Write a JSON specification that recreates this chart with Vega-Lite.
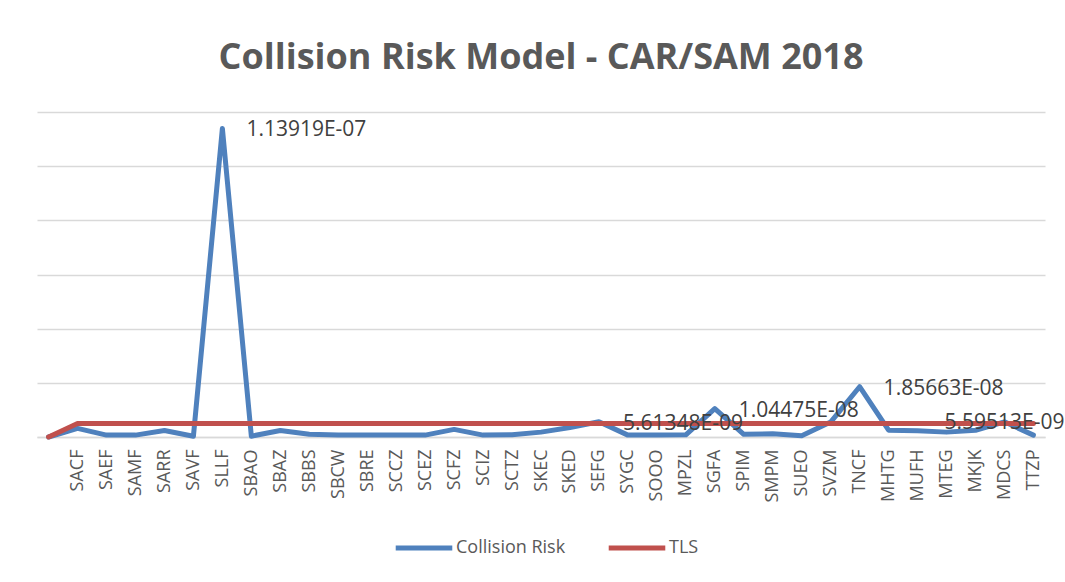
{
  "$schema": "https://vega.github.io/schema/vega-lite/v6.json",
  "autosize": {"type": "none"},
  "width": 1008,
  "height": 325,
  "padding": {"left": 37, "top": 112, "right": 20, "bottom": 145},
  "background": "white",
  "title": {
    "text": "Collision Risk Model - CAR/SAM 2018",
    "font": "Open Sans",
    "fontSize": 36,
    "fontWeight": "bold",
    "color": "#595959",
    "anchor": "middle",
    "frame": "group",
    "baseline": "alphabetic",
    "offset": 7
  },
  "config": {
    "view": {"stroke": null},
    "font": "Open Sans"
  },
  "data": {
    "values": [
      {"cat": " ", "Collision Risk": 0, "TLS": 0},
      {"cat": "SACF", "Collision Risk": 3.2e-9, "TLS": 5e-9},
      {"cat": "SAEF", "Collision Risk": 0.7e-9, "TLS": 5e-9},
      {"cat": "SAMF", "Collision Risk": 0.7e-9, "TLS": 5e-9},
      {"cat": "SARR", "Collision Risk": 2.4e-9, "TLS": 5e-9},
      {"cat": "SAVF", "Collision Risk": 0.3e-9, "TLS": 5e-9},
      {"cat": "SLLF", "Collision Risk": 1.13919e-7, "TLS": 5e-9, "label": "1.13919E-07"},
      {"cat": "SBAO", "Collision Risk": 0.3e-9, "TLS": 5e-9},
      {"cat": "SBAZ", "Collision Risk": 2.4e-9, "TLS": 5e-9},
      {"cat": "SBBS", "Collision Risk": 1.0e-9, "TLS": 5e-9},
      {"cat": "SBCW", "Collision Risk": 0.7e-9, "TLS": 5e-9},
      {"cat": "SBRE", "Collision Risk": 0.7e-9, "TLS": 5e-9},
      {"cat": "SCCZ", "Collision Risk": 0.7e-9, "TLS": 5e-9},
      {"cat": "SCEZ", "Collision Risk": 0.7e-9, "TLS": 5e-9},
      {"cat": "SCFZ", "Collision Risk": 2.8e-9, "TLS": 5e-9},
      {"cat": "SCIZ", "Collision Risk": 0.7e-9, "TLS": 5e-9},
      {"cat": "SCTZ", "Collision Risk": 0.8e-9, "TLS": 5e-9},
      {"cat": "SKEC", "Collision Risk": 1.8e-9, "TLS": 5e-9},
      {"cat": "SKED", "Collision Risk": 3.5e-9, "TLS": 5e-9},
      {"cat": "SEFG", "Collision Risk": 5.61348e-9, "TLS": 5e-9, "label": "5.61348E-09"},
      {"cat": "SYGC", "Collision Risk": 0.7e-9, "TLS": 5e-9},
      {"cat": "SOOO", "Collision Risk": 0.7e-9, "TLS": 5e-9},
      {"cat": "MPZL", "Collision Risk": 0.8e-9, "TLS": 5e-9},
      {"cat": "SGFA", "Collision Risk": 1.04475e-8, "TLS": 5e-9, "label": "1.04475E-08"},
      {"cat": "SPIM", "Collision Risk": 1.0e-9, "TLS": 5e-9},
      {"cat": "SMPM", "Collision Risk": 1.2e-9, "TLS": 5e-9},
      {"cat": "SUEO", "Collision Risk": 0.5e-9, "TLS": 5e-9},
      {"cat": "SVZM", "Collision Risk": 5.5e-9, "TLS": 5e-9},
      {"cat": "TNCF", "Collision Risk": 1.85663e-8, "TLS": 5e-9, "label": "1.85663E-08"},
      {"cat": "MHTG", "Collision Risk": 2.5e-9, "TLS": 5e-9},
      {"cat": "MUFH", "Collision Risk": 2.3e-9, "TLS": 5e-9},
      {"cat": "MTEG", "Collision Risk": 1.8e-9, "TLS": 5e-9},
      {"cat": "MKJK", "Collision Risk": 2.5e-9, "TLS": 5e-9},
      {"cat": "MDCS", "Collision Risk": 5.59513e-9, "TLS": 5e-9, "label": "5.59513E-09"},
      {"cat": "TTZP", "Collision Risk": 0.7e-9, "TLS": 5e-9}
    ]
  },
  "encoding": {
    "x": {
      "field": "cat",
      "type": "nominal",
      "sort": null,
      "scale": {"type": "point", "padding": 0.4},
      "axis": {
        "title": null,
        "labelAngle": -90,
        "labelAlign": "right",
        "labelBaseline": "middle",
        "labelFontSize": 18,
        "labelColor": "#595959",
        "labelPadding": 12,
        "ticks": false,
        "domain": true,
        "domainColor": "#D9D9D9",
        "domainWidth": 1.5,
        "grid": false,
        "labelOverlap": false
      }
    }
  },
  "layer": [
    {
      "transform": [{"fold": ["Collision Risk", "TLS"], "as": ["series", "value"]}],
      "mark": {"type": "line", "strokeWidth": 5, "strokeCap": "round", "strokeJoin": "round"},
      "encoding": {
        "y": {
          "field": "value",
          "type": "quantitative",
          "scale": {"domain": [0, 1.2e-7], "nice": false},
          "axis": {
            "title": null,
            "values": [0, 2e-8, 4e-8, 6e-8, 8e-8, 1e-7, 1.2e-7],
            "labels": false,
            "ticks": false,
            "domain": false,
            "grid": true,
            "gridColor": "#D9D9D9",
            "gridWidth": 1.5
          }
        },
        "color": {
          "field": "series",
          "type": "nominal",
          "scale": {"domain": ["Collision Risk", "TLS"], "range": ["#4F81BD", "#C0504D"]},
          "legend": {
            "title": null,
            "orient": "none",
            "legendX": 356,
            "legendY": 405,
            "direction": "horizontal",
            "symbolType": "stroke",
            "symbolSize": 3200,
            "symbolStrokeWidth": 5,
            "labelFontSize": 18,
            "labelColor": "#595959",
            "labelOffset": 1,
            "columnPadding": 32
          }
        }
      }
    },
    {
      "transform": [{"filter": "datum.label != null && datum.cat != 'MDCS'"}],
      "mark": {"type": "text", "align": "left", "baseline": "middle", "dx": 24, "dy": 2, "fontSize": 21, "color": "#404040"},
      "encoding": {
        "y": {"field": "Collision Risk", "type": "quantitative"},
        "text": {"field": "label"}
      }
    },
    {
      "transform": [{"filter": "datum.cat == 'MDCS'"}],
      "mark": {"type": "text", "align": "center", "baseline": "middle", "dx": 0, "dy": 1, "fontSize": 21, "color": "#404040"},
      "encoding": {
        "y": {"field": "Collision Risk", "type": "quantitative"},
        "text": {"field": "label"}
      }
    }
  ]
}
